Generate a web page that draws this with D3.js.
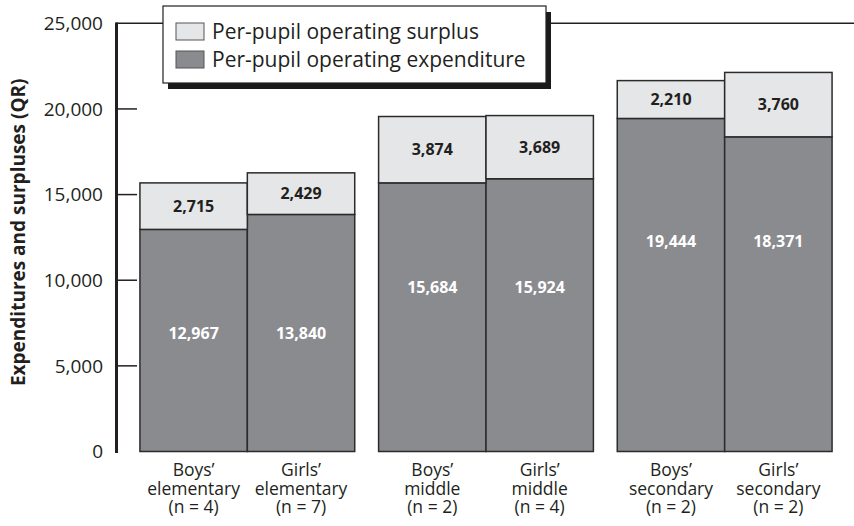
<!DOCTYPE html>
<html>
<head>
<meta charset="utf-8">
<script src="https://cdn.jsdelivr.net/npm/d3@7"></script>
<style>
    body { margin: 0; background: #fff; }
    svg { display: block; font-family: "Open Sans", "Noto Sans", sans-serif; }
    .tickLabel { font-size: 19px; fill: #231f20; }
    .axisTitle { font-size: 19px; font-weight: bold; fill: #231f20; }
    .catLabel { font-size: 17.5px; fill: #231f20; }
    .valLabel { font-size: 16px; font-weight: bold; }
    .legendText { font-size: 21px; fill: #231f20; }
</style>
</head>
<body>
<script>
// stacked bar chart: per-pupil expenditure and surplus by school type
(function(){

    //chart data
    var groups = ["elementary", "middle", "secondary"];
    var genders = ["Boys\u2019", "Girls\u2019"];
    var counts = [[4, 7], [2, 4], [2, 2]];
    var expenditure = [[12967, 13840], [15684, 15924], [19444, 18371]];
    var surplus = [[2715, 2429], [3874, 3689], [2210, 3760]];
    var yTicks = [0, 5000, 10000, 15000, 20000, 25000];
    var seriesNames = ["Per-pupil operating surplus", "Per-pupil operating expenditure"];

    var colors = { surplus: "#e5e6e7", expenditure: "#8a8b8f", ink: "#231f20" };

    window.onload = setChart();

    function setChart(){

        var width = 854,
            height = 526;

        var svg = d3.select("body")
            .append("svg")
            .attr("width", width)
            .attr("height", height);

        //scales
        var yScale = d3.scaleLinear()
            .domain([0, 25000])
            .range([451.5, 23.3]);

        var xGroup = d3.scaleBand()
            .domain(groups)
            .range([128, 844])
            .paddingInner(0.1)
            .paddingOuter(0.05);

        var xSub = d3.scaleBand()
            .domain(genders)
            .range([0, xGroup.bandwidth()]);

        //flatten data into one row per bar
        var rows = [];
        groups.forEach(function(g, gi){
            genders.forEach(function(s, si){
                rows.push({
                    group: g,
                    gi: gi,
                    gender: s,
                    n: counts[gi][si],
                    exp: expenditure[gi][si],
                    sur: surplus[gi][si],
                    x: xGroup(g) + xSub(s)
                });
            });
        });

        //top frame line (25,000), broken by the legend
        svg.append("line")
            .attr("x1", 116).attr("x2", width)
            .attr("y1", yScale(25000)).attr("y2", yScale(25000))
            .attr("stroke", colors.ink)
            .attr("stroke-width", 1.5);

        //tick marks
        svg.selectAll(".tickMark")
            .data(yTicks.filter(function(d){ return d > 0 && d < 25000; }))
            .enter()
            .append("line")
            .attr("class", "tickMark")
            .attr("x1", 117).attr("x2", 137)
            .attr("y1", function(d){ return yScale(d); })
            .attr("y2", function(d){ return yScale(d); })
            .attr("stroke", colors.ink)
            .attr("stroke-width", 1.5);

        //tick labels
        svg.selectAll(".tickLabel")
            .data(yTicks)
            .enter()
            .append("text")
            .attr("class", "tickLabel")
            .attr("x", 103)
            .attr("y", function(d){ return yScale(d); })
            .attr("dy", "0.36em")
            .attr("text-anchor", "end")
            .text(d3.format(","));

        //axis title
        svg.append("text")
            .attr("class", "axisTitle")
            .attr("transform", "translate(25," + yScale(12800) + ") rotate(-90)")
            .attr("text-anchor", "middle")
            .text("Expenditures and surpluses (QR)");

        //expenditure bars
        svg.selectAll(".expBar")
            .data(rows)
            .enter()
            .append("rect")
            .attr("class", "expBar")
            .attr("x", function(d){ return d.x; })
            .attr("width", xSub.bandwidth())
            .attr("y", function(d){ return yScale(d.exp); })
            .attr("height", function(d){ return yScale(0) - yScale(d.exp); })
            .attr("fill", colors.expenditure)
            .attr("stroke", "#2b2b2b")
            .attr("stroke-width", 1.5);

        //surplus bars
        svg.selectAll(".surBar")
            .data(rows)
            .enter()
            .append("rect")
            .attr("class", "surBar")
            .attr("x", function(d){ return d.x; })
            .attr("width", xSub.bandwidth())
            .attr("y", function(d){ return yScale(d.exp + d.sur); })
            .attr("height", function(d){ return yScale(d.exp) - yScale(d.exp + d.sur); })
            .attr("fill", colors.surplus)
            .attr("stroke", "#2b2b2b")
            .attr("stroke-width", 1.5);

        //surplus value labels, centred in segment
        svg.selectAll(".surLabel")
            .data(rows)
            .enter()
            .append("text")
            .attr("class", "valLabel")
            .attr("x", function(d){ return d.x + xSub.bandwidth() / 2; })
            .attr("y", function(d){ return yScale(d.exp + d.sur / 2); })
            .attr("dy", "0.36em")
            .attr("text-anchor", "middle")
            .attr("fill", colors.ink)
            .text(function(d){ return d3.format(",")(d.sur); });

        //expenditure value labels, a fixed distance below the lower bar top of each group
        var groupMin = groups.map(function(g, gi){ return d3.min(expenditure[gi]); });
        svg.selectAll(".expLabel")
            .data(rows)
            .enter()
            .append("text")
            .attr("class", "valLabel")
            .attr("x", function(d){ return d.x + xSub.bandwidth() / 2; })
            .attr("y", function(d){ return yScale(groupMin[d.gi]) + 104; })
            .attr("dy", "0.36em")
            .attr("text-anchor", "middle")
            .attr("fill", "#fff")
            .text(function(d){ return d3.format(",")(d.exp); });

        //category labels, one text per line
        var lines = [
            function(d){ return d.gender; },
            function(d){ return d.group; },
            function(d){ return "(n = " + d.n + ")"; }
        ];
        lines.forEach(function(fn, li){
            svg.selectAll(".catLabel" + li)
                .data(rows)
                .enter()
                .append("text")
                .attr("class", "catLabel catLabel" + li)
                .attr("text-anchor", "middle")
                .attr("x", function(d){ return d.x + xSub.bandwidth() / 2; })
                .attr("y", 476 + li * 18.5)
                .text(fn);
        });

        //vertical axis line
        svg.append("line")
            .attr("x1", 116.5).attr("x2", 116.5)
            .attr("y1", yScale(25000) - 0.8).attr("y2", 453)
            .attr("stroke", colors.ink)
            .attr("stroke-width", 3);

        setLegend(svg);
    }; // end of setChart

    function setLegend(svg){
        var lx = 163, ly = 6, lw = 383, lh = 77;

        //drop shadow
        svg.append("rect")
            .attr("x", lx + 5).attr("y", ly + 6)
            .attr("width", lw).attr("height", lh)
            .attr("fill", "#1a1a1a");

        svg.append("rect")
            .attr("x", lx).attr("y", ly)
            .attr("width", lw).attr("height", lh)
            .attr("fill", "#fff")
            .attr("stroke", colors.ink)
            .attr("stroke-width", 1.2);

        var items = svg.selectAll(".legendItem")
            .data(seriesNames)
            .enter()
            .append("g")
            .attr("class", "legendItem")
            .attr("transform", function(d, i){
                return "translate(" + (lx + 13) + "," + (ly + 17 + i * 28) + ")";
            });

        items.append("rect")
            .attr("width", 28)
            .attr("height", 17)
            .attr("fill", function(d, i){ return i == 0 ? colors.surplus : colors.expenditure; })
            .attr("stroke", "#555")
            .attr("stroke-width", 1);

        items.append("text")
            .attr("class", "legendText")
            .attr("x", 36)
            .attr("y", 8.5)
            .attr("dy", "0.36em")
            .text(function(d){ return d; });
    }; // end of setLegend

})();
</script>
</body>
</html>
